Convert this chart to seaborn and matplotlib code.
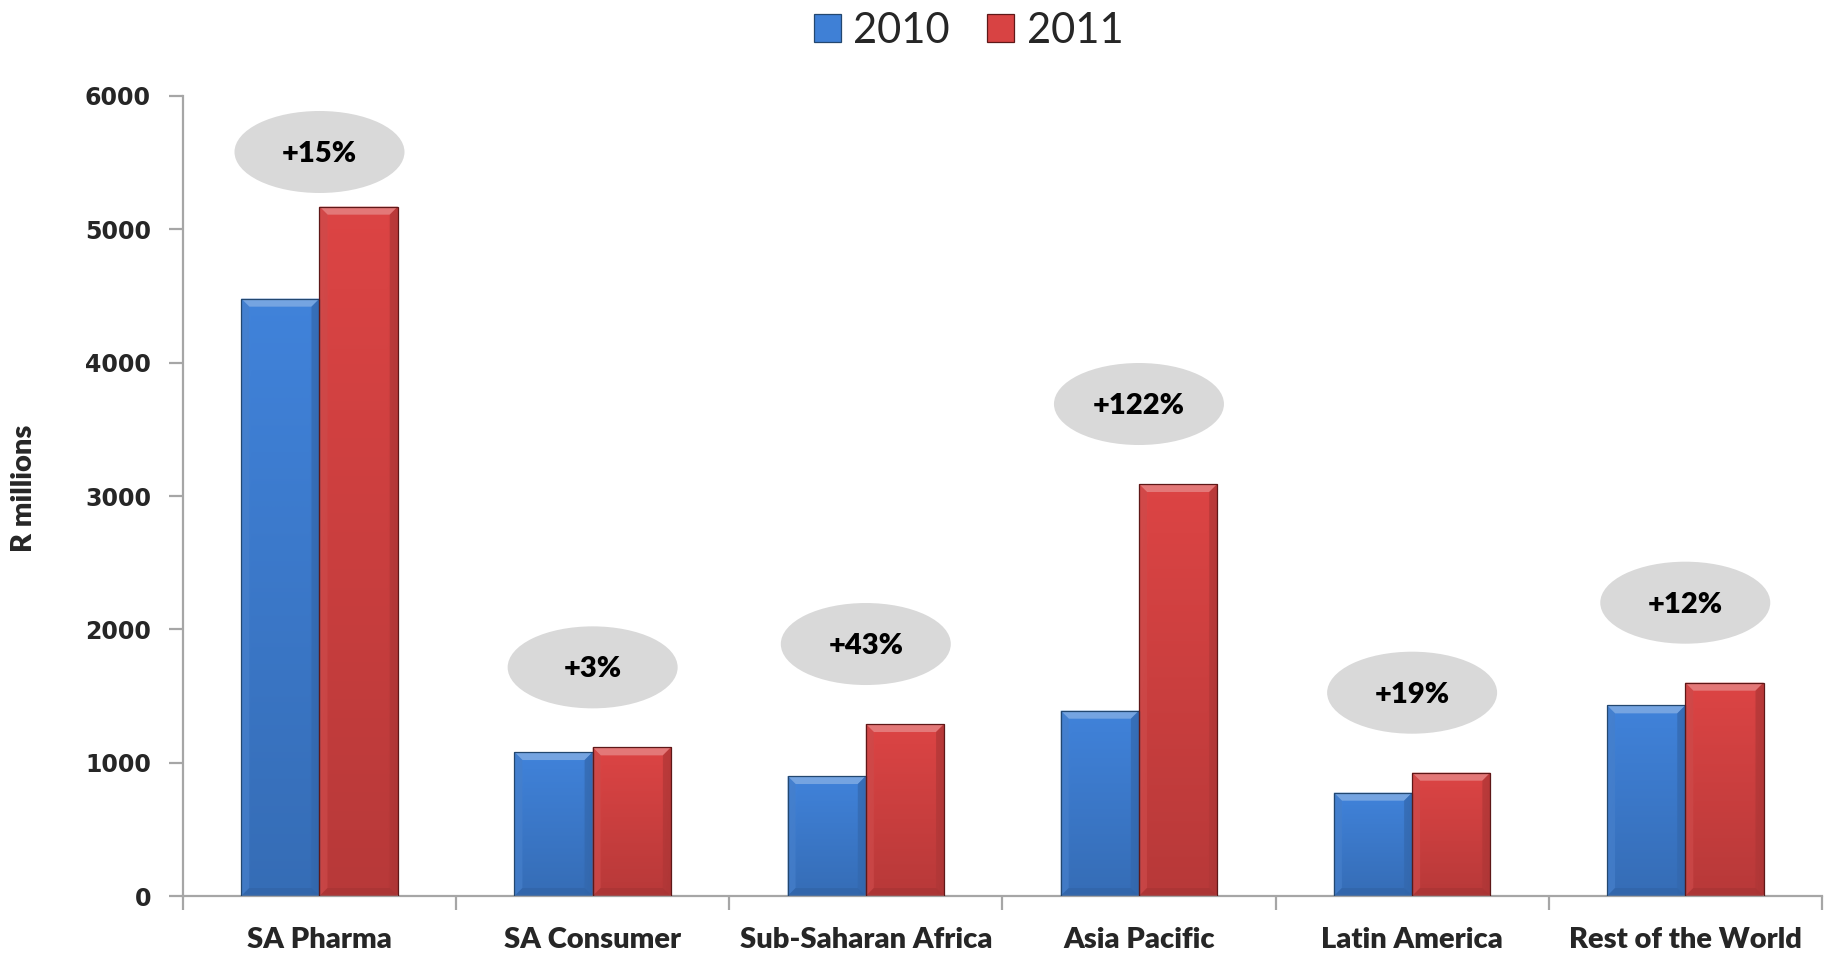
import numpy as np
import pandas as pd
import matplotlib
matplotlib.use("Agg")
import matplotlib.pyplot as plt
import seaborn as sns
from matplotlib.patches import Ellipse, Polygon, Patch, Rectangle
from matplotlib.colors import to_rgb

# Turnover by region, R millions
regions = ["SA Pharma", "SA Consumer", "Sub-Saharan Africa",
           "Asia Pacific", "Latin America", "Rest of the World"]
years = ["2010", "2011"]
sales_2010 = [4480, 1080, 900, 1390, 775, 1430]
sales_2011 = [5170, 1115, 1290, 3090, 925, 1600]
growth_labels = ["+15%", "+3%", "+43%", "+122%", "+19%", "+12%"]
y_ticks = [0, 1000, 2000, 3000, 4000, 5000, 6000]

df = pd.DataFrame({
    "region": regions * 2,
    "year": [years[0]] * len(regions) + [years[1]] * len(regions),
    "sales": sales_2010 + sales_2011,
})

base_colors = {"2010": "#3f80d6", "2011": "#d84343"}
edge_colors = {"2010": "#23476f", "2011": "#5e1818"}

sns.set_theme(style="white")
plt.rcParams["font.family"] = ["Lato", "DejaVu Sans"]
HEAVY = "heavy"

fig = plt.figure(figsize=(18.31, 9.57), dpi=100)
ax = fig.add_axes([0.0999, 0.0637, 0.8951, 0.8360])

sns.barplot(data=df, x="region", y="sales", hue="year", order=regions,
            hue_order=years, palette=base_colors, width=0.573, saturation=1,
            legend=False, ax=ax, linewidth=0)

ax.set_xlim(-0.5, len(regions) - 0.5)
ax.set_ylim(0, 6000)

# pixel -> data conversions for the bevel sizes
fig.canvas.draw()
bb = ax.get_window_extent()
px_x = (len(regions)) / bb.width
px_y = 6000 / bb.height
bev_x = 8 * px_x
bev_y = 8 * px_y


def lighten(c, f):
    c = np.array(to_rgb(c))
    return tuple(c + (1 - c) * f)


def darken(c, f):
    return tuple(np.array(to_rgb(c)) * (1 - f))


bars = list(ax.patches)
for k, bar in enumerate(bars):
    year = years[k // len(regions)]
    col = np.array(to_rgb(base_colors[year]))
    x0, y0 = bar.get_x(), bar.get_y()
    w, h = bar.get_width(), bar.get_height()
    if h <= 0:
        continue
    # vertical shading: lighter at the top, darker towards the base
    t = np.linspace(0, 1, 120)[:, None]
    u = np.linspace(0, 1, 60)[None, :]
    vert = 1.02 - 0.17 * t
    horiz = 1.0 - 0.10 * np.clip((u - 0.88) / 0.12, 0, 1) + 0.03 * np.clip((0.12 - u) / 0.12, 0, 1)
    img = np.clip(col[None, None, :] * (vert * horiz)[:, :, None], 0, 1)
    im = ax.imshow(img, extent=[x0, x0 + w, y0, y0 + h], origin="upper",
                   aspect="auto", interpolation="bilinear", zorder=2)
    im.set_clip_path(bar)
    top = y0 + h
    # top bevel
    ax.add_patch(Polygon([(x0, top), (x0 + w, top), (x0 + w - bev_x, top - bev_y),
                          (x0 + bev_x, top - bev_y)], closed=True,
                         facecolor=lighten(col, 0.28), edgecolor="none", zorder=3))
    # left bevel
    ax.add_patch(Polygon([(x0, top), (x0 + bev_x, top - bev_y), (x0 + bev_x, y0 + bev_y),
                          (x0, y0)], closed=True,
                         facecolor=lighten(col * 0.93, 0.06), edgecolor="none", zorder=3, alpha=0.7))
    # right bevel
    ax.add_patch(Polygon([(x0 + w, top), (x0 + w - bev_x, top - bev_y),
                          (x0 + w - bev_x, y0 + bev_y), (x0 + w, y0)], closed=True,
                         facecolor=darken(col, 0.18), edgecolor="none", zorder=3, alpha=0.7))
    # bottom bevel
    ax.add_patch(Polygon([(x0, y0), (x0 + bev_x, y0 + bev_y), (x0 + w - bev_x, y0 + bev_y),
                          (x0 + w, y0)], closed=True,
                         facecolor=darken(col, 0.22), edgecolor="none", zorder=3, alpha=0.7))
    # outline
    ax.add_patch(Rectangle((x0, y0), w, h, facecolor="none",
                           edgecolor=edge_colors[year], linewidth=0.9, zorder=4))
    bar.set_facecolor("none")

# growth callouts above each pair
ell_w = 170 * px_x
ell_h = 82 * px_y
for i, lab in enumerate(growth_labels):
    top = max(sales_2010[i], sales_2011[i])
    yc = min(top + 600, 5580)
    ax.add_patch(Ellipse((i, yc), ell_w, ell_h, facecolor="#d9d9d9",
                         edgecolor="none", zorder=1))
    ax.text(i, yc - 15, lab, ha="center", va="center", fontsize=21,
            fontweight=HEAVY, color="black", zorder=5)

# axes styling
for side in ["top", "right"]:
    ax.spines[side].set_visible(False)
for side in ["left", "bottom"]:
    ax.spines[side].set_color("#a6a6a6")
    ax.spines[side].set_linewidth(1.6)

ax.set_yticks(y_ticks)
ax.set_yticklabels([str(v) for v in y_ticks], fontsize=17, fontweight="bold",
                   family="DejaVu Sans")
ax.tick_params(axis="y", direction="out", length=10, width=1.6, color="#a6a6a6",
               pad=13, left=True)
ax.set_xticks(np.arange(len(regions)))
ax.set_xticklabels(regions, fontsize=21, fontweight=HEAVY)
ax.tick_params(axis="x", which="major", length=0, pad=22, bottom=True)
ax.set_xticks(np.arange(-0.5, len(regions), 1), minor=True)
ax.tick_params(axis="x", which="minor", direction="out", length=10, width=1.6,
               color="#a6a6a6", bottom=True)
ax.set_xlabel("")
ax.set_ylabel("R millions", fontsize=21, fontweight=HEAVY)
ax.yaxis.set_label_coords(-0.089, 0.51)
ax.grid(False)

handles = [Patch(facecolor=base_colors[y], edgecolor=edge_colors[y], linewidth=0.9)
           for y in years]
fig.legend(handles=handles, labels=years, loc="upper center",
           bbox_to_anchor=(0.529, 1.027), ncol=2, frameon=False, fontsize=30,
           handlelength=0.65, handleheight=0.65, handletextpad=0.3,
           columnspacing=0.9)

fig.savefig("out.png", dpi=100, facecolor="white")
